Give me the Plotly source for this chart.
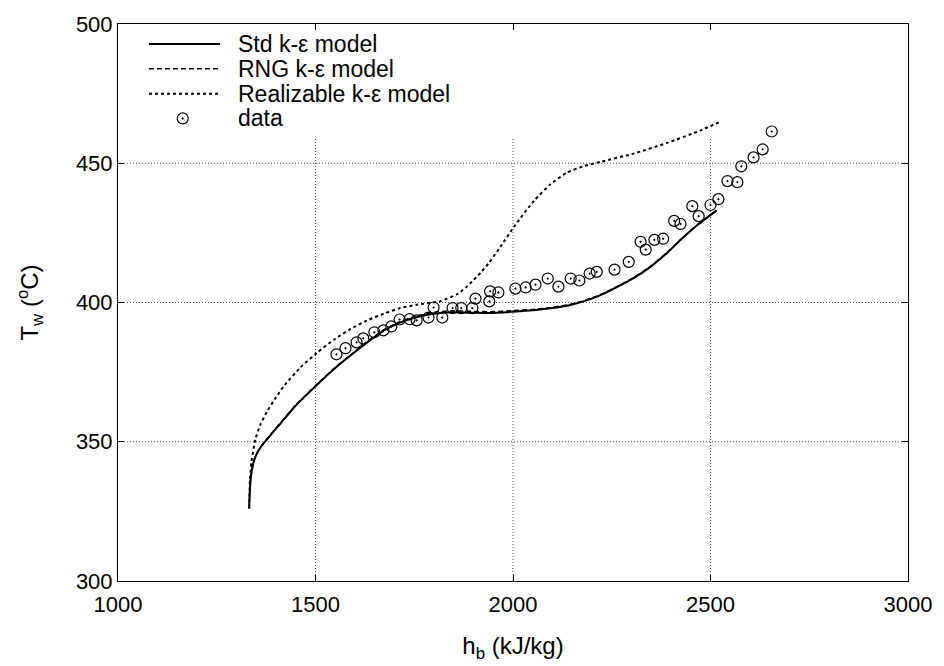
import plotly.graph_objects as go

# ---- data ----
std_h = [1332, 1333, 1335, 1338, 1343, 1350, 1360, 1378, 1400, 1420, 1450, 1504, 1550, 1589, 1620,
         1648, 1680, 1715, 1750, 1791, 1842, 1900, 1943, 2000, 2050, 2100, 2150, 2196, 2230,
         2264, 2300, 2348, 2390, 2432, 2470, 2515]
std_T = [326, 330, 335, 339, 342.5, 345.3, 347.8, 351, 354.7, 358, 363, 370.5, 376.5, 381, 384.5,
         387.5, 390.5, 392.8, 394.5, 395.8, 396.5, 396.3, 396.2, 396.7, 397.2, 398.0, 399.3,
         401.2, 403.2, 405.6, 408.3, 412.8, 417.8, 423.5, 428.2, 433]

rng_h = [1332, 1333, 1335, 1338, 1343, 1350, 1360, 1378, 1400, 1420, 1450, 1504, 1550, 1589, 1620,
         1648, 1680, 1715, 1750, 1791, 1842, 1900, 1943, 2000, 2050, 2100, 2150, 2196, 2230,
         2264, 2300, 2348, 2390, 2432, 2470, 2515]
rng_T = [326, 330.2, 335.2, 339.2, 342.7, 345.5, 348.0, 351.2, 354.9, 358.2, 363.2, 370.7, 376.7, 381.2, 384.8,
         387.8, 390.8, 393.2, 394.9, 396.3, 397.0, 396.8, 396.7, 397.1, 397.5, 398.3, 399.5,
         401.4, 403.4, 405.8, 408.5, 413.0, 418.0, 423.6, 428.3, 433.1]

rlz_h = [1332, 1334, 1338, 1348, 1360, 1378, 1400, 1420, 1462, 1504, 1550, 1589, 1630, 1673,
         1715, 1757, 1816, 1859, 1880, 1901, 1920, 1939, 1968, 2006, 2053, 2095, 2137, 2180,
         2222, 2306, 2390, 2475, 2521]
rlz_T = [326, 336, 343, 351, 356, 361, 366, 370, 376.7, 382, 387, 390.5, 393.5, 396,
         398, 399.2, 400.5, 403, 405.3, 408.2, 411, 414.2, 420, 427.9, 436.5, 442.5, 446.7, 449,
         450.5, 453.5, 457.3, 461.8, 464.7]

data_h = [1553, 1576, 1604, 1621, 1649, 1672, 1692, 1713, 1738, 1756, 1786, 1799, 1821, 1847,
          1869, 1897, 1905, 1940, 1942, 1963, 2006, 2032, 2057, 2088, 2115, 2146, 2168, 2194,
          2212, 2257, 2293, 2323, 2336, 2358, 2380, 2408, 2424, 2454, 2470, 2500, 2520, 2543,
          2568, 2578, 2609, 2632, 2655]
data_T = [381.4, 383.6, 385.7, 387.1, 389.3, 390.0, 391.4, 393.9, 394.0, 393.6, 394.6, 398.2, 394.6, 398.0,
          398.0, 398.0, 401.4, 400.4, 404.0, 403.6, 405.0, 405.4, 406.4, 408.6, 405.7, 408.6, 407.9, 410.4,
          411.0, 411.8, 414.6, 421.8, 419.0, 422.5, 422.9, 429.3, 428.2, 434.6, 431.0, 435.0, 437.1, 443.6,
          443.2, 448.9, 452.1, 455.0, 461.4]

series_names = ["Std k-ε model", "RNG k-ε model", "Realizable k-ε model", "data"]

x_ticks = [1000, 1500, 2000, 2500, 3000]
y_ticks = [300, 350, 400, 450, 500]
x_range = [1000, 3000]
y_range = [300, 500]
vgrid_top = 459.3  # vertical grid lines stop below the key

FONT = "Liberation Sans, Arial, Helvetica, sans-serif"

styles = [
    dict(mode="lines", line=dict(color="black", width=2, shape="spline", smoothing=0.5)),
    dict(mode="lines", line=dict(color="black", width=1.5, dash="5px,3px", shape="spline", smoothing=0.5)),
    dict(mode="lines", line=dict(color="black", width=2, dash="3px,3px", shape="spline", smoothing=0.5)),
    dict(mode="markers", marker=dict(symbol="circle-open-dot", size=11, color="black",
                                     line=dict(color="black", width=1.2))),
]
series = [(std_h, std_T), (rng_h, rng_T), (rlz_h, rlz_T), (data_h, data_T)]

fig = go.Figure()
for (xs, ys), name, st in zip(series, series_names, styles):
    fig.add_trace(go.Scatter(x=xs, y=ys, name=name, showlegend=False, **st))

# ---- key (gnuplot style: sample on the left, text to the right) ----
key_row_y = [0.9643, 0.9196, 0.875, 0.8304]   # fraction of plot height
key_x0, key_x1, key_xm, key_tx = 0.0392, 0.1291, 0.0819, 0.1505
for i, (name, st) in enumerate(zip(series_names, styles)):
    if st["mode"] == "lines":
        lx, ly = [key_x0, key_x1], [key_row_y[i]] * 2
        st2 = dict(mode="lines", line={k: v for k, v in st["line"].items() if k not in ("shape", "smoothing")})
    else:
        lx, ly = [key_xm], [key_row_y[i]]
        st2 = st
    fig.add_trace(go.Scatter(x=lx, y=ly, xaxis="x2", yaxis="y2", showlegend=False,
                             hoverinfo="skip", **st2))
    fig.add_annotation(x=key_tx, y=key_row_y[i], xref="paper", yref="paper", text=name,
                       showarrow=False, xanchor="left", yanchor="middle", borderpad=0,
                       font=dict(size=23, family=FONT, color="black"))

shapes = []
for xv in x_ticks[1:-1]:
    shapes.append(dict(type="line", xref="x", yref="y", x0=xv, x1=xv, y0=y_range[0], y1=vgrid_top,
                       line=dict(color="#555", width=1, dash="1px,2px"), layer="below"))
for yv in y_ticks[1:-1]:
    shapes.append(dict(type="line", xref="x", yref="y", x0=x_range[0], x1=x_range[1], y0=yv, y1=yv,
                       line=dict(color="#555", width=1, dash="1px,2px"), layer="below"))

fig.update_layout(
    width=944, height=666,
    margin=dict(l=118, r=36, t=23, b=83),
    paper_bgcolor="white", plot_bgcolor="white",
    font=dict(family=FONT, size=22, color="black"),
    shapes=shapes,
    showlegend=False,
    xaxis=dict(range=x_range, tickvals=x_ticks, showgrid=False, zeroline=False,
               showline=True, linecolor="black", linewidth=1, mirror="ticks",
               ticks="inside", ticklen=6, tickcolor="black", ticklabelstandoff=4,
               title=dict(text="h<sub>b</sub> (kJ/kg)", standoff=20, font=dict(size=24))),
    yaxis=dict(range=y_range, tickvals=y_ticks, showgrid=False, zeroline=False,
               showline=True, linecolor="black", linewidth=1, mirror="ticks",
               ticks="inside", ticklen=6, tickcolor="black",
               title=dict(text="T<sub>w</sub> (<sup>o</sup>C)", standoff=30, font=dict(size=24))),
    xaxis2=dict(range=[0, 1], overlaying="x", visible=False, fixedrange=True),
    yaxis2=dict(range=[0, 1], overlaying="y", visible=False, fixedrange=True),
)

fig.write_html("out.html")
